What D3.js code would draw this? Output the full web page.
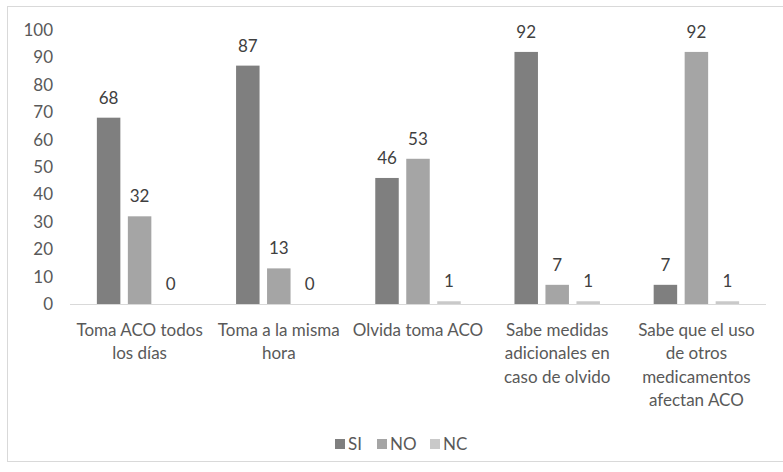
<!DOCTYPE html>
<html>
<head>
<meta charset="utf-8">
<script src="https://cdn.jsdelivr.net/npm/d3@7"></script>
<style>
  body { margin: 0; background: #fff; }
  svg { font-family: Lato, "Liberation Sans", sans-serif; }
</style>
</head>
<body>
<svg></svg>
<script>
// grouped bar chart, values in percent

var categories = [
    ['Toma ACO todos', 'los días'],
    ['Toma a la misma', 'hora'],
    ['Olvida toma ACO'],
    ['Sabe medidas', 'adicionales en', 'caso de olvido'],
    ['Sabe que el uso', 'de otros', 'medicamentos', 'afectan ACO']
];
var seriesNames = ['SI', 'NO', 'NC'];
var siValues = [68, 87, 46, 92, 7];
var noValues = [32, 13, 53, 7, 92];
var ncValues = [0, 0, 1, 1, 1];
var yTicks = [0, 10, 20, 30, 40, 50, 60, 70, 80, 90, 100];
var colors = ['#7f7f7f', '#a5a5a5', '#c9c9c9'];

var svgWidth = 783, svgHeight = 472;
var plotLeft = 70, plotRight = 766, plotTop = 30, plotBottom = 304;

var svg = d3.select('svg')
    .attr('width', svgWidth)
    .attr('height', svgHeight);

// chart frame
svg.append('rect')
    .attr('x', 7.5).attr('y', 6.5)
    .attr('width', 800).attr('height', 455)
    .attr('fill', 'none')
    .attr('stroke', '#d9d9d9');

var x0 = d3.scaleBand()
    .domain(d3.range(categories.length))
    .range([plotLeft, plotRight])
    .paddingInner(0.386)
    .paddingOuter(0.193);

var x1 = d3.scaleBand()
    .domain(seriesNames)
    .range([0, x0.bandwidth()])
    .paddingInner(0.242);

var yScale = d3.scaleLinear()
    .domain([0, 100])
    .range([plotBottom, plotTop]);

// y axis labels only
var yAxis = svg.append('g')
    .attr('transform', 'translate(' + (plotLeft - 3) + ',0)')
    .call(d3.axisLeft(yScale).tickValues(yTicks).tickSize(0).tickPadding(14));
yAxis.select('.domain').remove();
yAxis.selectAll('text')
    .attr('fill', '#595959')
    .style('font-family', 'Lato, sans-serif')
    .style('font-size', '17px');

var data = categories.map(function(c, i) {
    return [siValues[i], noValues[i], ncValues[i]];
});

var groups = svg.selectAll('g.grp')
    .data(data)
    .enter()
    .append('g')
    .attr('class', 'grp')
    .attr('transform', function(d, i) {
        return 'translate(' + x0(i) + ',0)';
    });

groups.selectAll('rect')
    .data(function(d) { return d; })
    .enter()
    .append('rect')
    .attr('x', function(d, j) { return x1(seriesNames[j]); })
    .attr('y', function(d) { return yScale(d); })
    .attr('width', x1.bandwidth())
    .attr('height', function(d) { return plotBottom - yScale(d); })
    .attr('fill', function(d, j) { return colors[j]; });

groups.selectAll('text')
    .data(function(d) { return d; })
    .enter()
    .append('text')
    .text(function(d) { return d; })
    .attr('x', function(d, j) { return x1(seriesNames[j]) + x1.bandwidth() / 2; })
    .attr('y', function(d) { return yScale(d) - 14; })
    .attr('text-anchor', 'middle')
    .attr('fill', '#404040')
    .style('font-size', '17px');

// baseline
svg.append('line')
    .attr('x1', plotLeft).attr('x2', plotRight)
    .attr('y1', plotBottom + 0.5).attr('y2', plotBottom + 0.5)
    .attr('stroke', '#d9d9d9');

// category labels
var catLabels = svg.selectAll('text.cat')
    .data(categories)
    .enter()
    .append('text')
    .attr('class', 'cat')
    .attr('text-anchor', 'middle')
    .attr('fill', '#595959')
    .style('font-size', '17px')
    .attr('y', 336);

catLabels.selectAll('tspan')
    .data(function(d, i) { return d.map(function(t) { return {t: t, i: i}; }); })
    .enter()
    .append('tspan')
    .attr('x', function(d) { return x0(d.i) + x0.bandwidth() / 2; })
    .attr('dy', function(d, k) { return k === 0 ? 0 : 23.3; })
    .text(function(d) { return d.t; });

// legend
var legendX = [335, 377, 430];
var legend = svg.selectAll('g.leg')
    .data(seriesNames)
    .enter()
    .append('g')
    .attr('class', 'leg')
    .attr('transform', function(d, i) { return 'translate(' + legendX[i] + ',439)'; });

legend.append('rect')
    .attr('width', 10).attr('height', 10)
    .attr('fill', function(d, i) { return colors[i]; });

legend.append('text')
    .attr('x', 13).attr('y', 11)
    .attr('fill', '#595959')
    .style('font-size', '17px')
    .text(function(d) { return d; });
</script>
</body>
</html>
